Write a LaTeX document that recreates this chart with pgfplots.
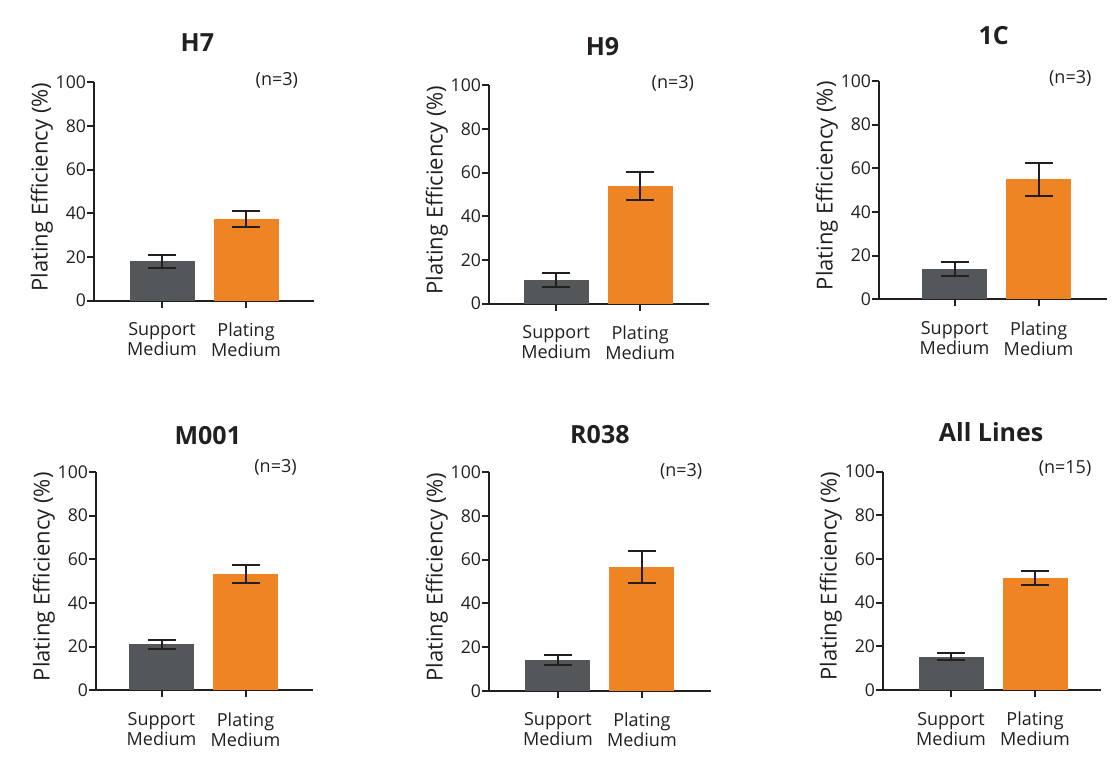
\documentclass[border=0pt]{standalone}
\usepackage{fontspec}
\setmainfont{Open Sans}
\usepackage{pgfplots}
\pgfplotsset{compat=1.18}
\definecolor{sgray}{RGB}{84,87,90}
\definecolor{porange}{RGB}{238,132,35}
\definecolor{ink}{RGB}{35,31,32}
\tikzset{nlab/.style={anchor=east, font=\fontsize{9}{10}\selectfont, text=ink}}
\pgfplotsset{
  panel/.style={
    x=42pt, y=1.092pt, ymin=0, ymax=100,
    anchor=south west, clip=false,
    axis x line*=bottom, axis y line*=left,
    axis line style={line width=1pt, ink},
    every tick/.style={line width=1pt, ink},
    tick align=outside, major tick length=3.5pt,
    ytick={0,20,40,60,80,100}, xtick={0,1},
    xticklabels={{Support\\Medium},{Plating\\Medium}},
    xticklabel style={align=center, font=\fontsize{9}{10}\selectfont, text=ink, yshift=-4pt},
    yticklabel style={font=\fontsize{8.8}{9}\selectfont, text=ink, xshift=3pt},
    /pgf/number format/assume math mode=true,
    ylabel={Plating Efficiency (\%)},
    ylabel style={font=\fontsize{11}{12}\selectfont, text=ink, at={(ticklabel cs:0.52)}},
    ylabel shift=-5.5pt,
    title style={font=\fontsize{12.5}{13}\selectfont\bfseries, text=ink, anchor=base},
  },
  sbar/.style={ybar, bar shift=0pt, bar width=32.5pt, fill=sgray, draw=none,
    error bars/.cd, y dir=both, y explicit,
    error bar style={line width=1pt, ink},
    error mark options={rotate=90, line width=1pt, mark size=7pt, ink}},
  pbar/.style={ybar, bar shift=0pt, bar width=32.5pt, fill=porange, draw=none,
    error bars/.cd, y dir=both, y explicit,
    error bar style={line width=1pt, ink},
    error mark options={rotate=90, line width=1pt, mark size=7pt, ink}},
}
\begin{document}
\begin{tikzpicture}
\useasboundingbox (0,0) rectangle (560pt,386.5pt);

% H7
\begin{axis}[panel, at={(47pt,236.15pt)}, xmin=-0.81, xmax=1.81,
  title={H7}, title style={at={(axis description cs:0.47,1)}, yshift=9.3pt}]
\addplot[sbar] coordinates {(0,18.0) +- (0,2.8)};
\addplot[pbar] coordinates {(1,37.3) +- (0,3.7)};
\node[nlab, xshift=-4.5pt, yshift=1pt] at (rel axis cs:1,1) {(n=3)};
\end{axis}

% H9
\begin{axis}[panel, at={(244.5pt,234.65pt)}, xmin=-0.80, xmax=1.82,
  title={H9}, title style={at={(axis description cs:0.516,1)}, yshift=9pt}]
\addplot[sbar] coordinates {(0,11.0) +- (0,3.2)};
\addplot[pbar] coordinates {(1,53.7) +- (0,6.4)};
\node[nlab, xshift=-4pt, yshift=1pt] at (rel axis cs:1,1) {(n=3)};
\end{axis}

% 1C
\begin{axis}[panel, at={(439.5pt,236.85pt)}, xmin=-0.90, xmax=1.82,
  title={1C}, title style={at={(axis description cs:0.502,1)}, yshift=12pt}]
\addplot[sbar] coordinates {(0,14.0) +- (0,3.3)};
\addplot[pbar] coordinates {(1,55.0) +- (0,7.5)};
\node[nlab, xshift=-4.5pt, yshift=1pt] at (rel axis cs:1,1) {(n=3)};
\end{axis}

% M001
\begin{axis}[panel, at={(48pt,41.35pt)}, xmin=-0.78, xmax=1.80,
  title={M001}, title style={at={(axis description cs:0.516,1)}, yshift=7.7pt}]
\addplot[sbar] coordinates {(0,21.0) +- (0,2.2)};
\addplot[pbar] coordinates {(1,53.2) +- (0,4.0)};
\node[nlab, xshift=-4.5pt, yshift=2pt] at (rel axis cs:1,1) {(n=3)};
\end{axis}

% R038
\begin{axis}[panel, at={(244.5pt,41.15pt)}, xmin=-0.82, xmax=1.82,
  title={R038}, title style={at={(axis description cs:0.50,1)}, yshift=8.5pt}]
\addplot[sbar] coordinates {(0,14.0) +- (0,2.4)};
\addplot[pbar] coordinates {(1,56.7) +- (0,7.2)};
\node[nlab, xshift=-0.7pt, yshift=0.5pt] at (rel axis cs:1,1) {(n=3)};
\end{axis}

% All Lines
\begin{axis}[panel, at={(441.5pt,41.5pt)}, xmin=-0.81, xmax=1.79,
  title={All Lines}, title style={at={(axis description cs:0.495,1)}, yshift=9pt}]
\addplot[sbar] coordinates {(0,15.3) +- (0,1.5)};
\addplot[pbar] coordinates {(1,51.2) +- (0,3.1)};
\node[nlab, xshift=-1.5pt, yshift=1.7pt] at (rel axis cs:1,1) {(n=15)};
\end{axis}
\end{tikzpicture}
\end{document}
